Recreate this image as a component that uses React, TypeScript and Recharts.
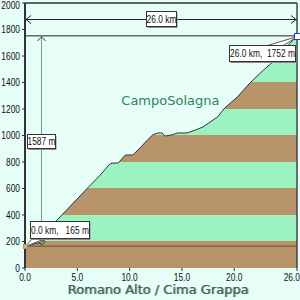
import {
  ComposedChart,
  Area,
  XAxis,
  YAxis,
  ReferenceLine,
  ReferenceDot,
} from 'recharts';

// profile: distance (km) / elevation (m)
const km = [
  0, 1.4, 2.2, 2.8, 6.0, 7.2, 8.1, 8.4, 8.9, 9.6, 10.3, 11.0, 11.7, 12.2, 12.7,
  13.1, 13.4, 14.0, 14.6, 15.5, 16.3, 17.0, 18.4, 19.1, 20.3, 21.5, 22.8, 23.9,
  25.0, 26.0,
];
const elev = [
  165, 192, 226, 340, 605, 702, 785, 792, 792, 853, 853, 906, 966, 1004, 1019,
  1019, 996, 1004, 1019, 1019, 1042, 1064, 1140, 1208, 1291, 1396, 1494, 1570,
  1668, 1752,
];

const xTicks = [0, 5, 10, 15, 20, 26];
const yTicks = [0, 200, 400, 600, 800, 1000, 1200, 1400, 1600, 1800, 2000];

// horizontal stripes under the profile (bottom to top)
const bandTops = [200, 400, 600, 800, 1000, 1200, 1400, 2000];
const bandColors = [
  '#b8946a', '#9cf2c0', '#b8946a', '#9cf2c0',
  '#b8946a', '#9cf2c0', '#b8946a', '#9cf2c0',
];

const climbName = 'CampoSolagna';
const title = 'Romano Alto / Cima Grappa';
const nameAt = { km: 13.9, elev: 1265 };
const distLineElev = 1880;
const gainLineKm = 1.5;

const BG = '#e6fdf8';
const FONT = '"Liberation Sans", Arial, sans-serif';
const SQUEEZE = 0.84;

const profile = km.map((k, i) => ({ km: k, elev: elev[i] }));
const startKm = km[0];
const startElev = elev[0];
const endKm = km[km.length - 1];
const endElev = elev[elev.length - 1];
const gain = endElev - startElev;
const maxElev = Math.max(...elev);

const px = (v: number) => Math.round(v) + 0.5;

// condensed text, like the narrow face of the original
function Narrow({ x, y, anchor = 'middle', children }: any) {
  return (
    <text
      transform={`translate(${x} ${y}) scale(${SQUEEZE} 1)`}
      textAnchor={anchor}
      fontSize={10}
      fontFamily={FONT}
      fill="#111"
      style={{ whiteSpace: 'pre' }}
    >
      {children}
    </text>
  );
}

function LabelBox({ x, y, w, h, text }: { x: number; y: number; w: number; h: number; text: string }) {
  return (
    <g>
      <rect x={x + 1} y={y + 1.5} width={w} height={h} fill="#8a8a8a" />
      <rect x={x} y={y} width={w} height={h} fill="#ffffff" stroke="#333" strokeWidth={1} />
      <Narrow x={x + w / 2} y={y + h / 2 + 3.5}>{text}</Narrow>
    </g>
  );
}

const StartMark = (props: any) => {
  const cx = px(props.cx);
  const cy = px(props.cy);
  return (
    <g>
      <polygon points={`${cx},${cy} ${cx + 7},${cy - 8} ${cx + 20},${cy - 8}`} fill="#fff" stroke="#555" />
      <LabelBox x={cx + 5} y={cy - 25} w={59} h={17} text={`${startKm.toFixed(1)} km,   ${startElev} m`} />
      <rect x={cx - 2} y={cy - 2} width={4} height={4} fill="#7ed8a0" stroke="#c8884a" />
    </g>
  );
};

const EndMark = (props: any) => {
  const cx = px(props.cx);
  const cy = px(props.cy);
  return (
    <g>
      <polygon points={`${cx},${cy} ${cx - 30},${cy + 9} ${cx - 14},${cy + 9}`} fill="#fff" stroke="#555" />
      <LabelBox x={cx - 68} y={cy + 9} w={66} h={16} text={`${endKm.toFixed(1)} km,  ${endElev} m`} />
      <rect x={cx - 3} y={cy - 3} width={6} height={6} fill="#fff" stroke="#2a3ad8" />
    </g>
  );
};

const DistLine = (props: any) => {
  const { x1, x2 } = props;
  const y = px(props.y1);
  return (
    <g stroke="#222" strokeWidth={1} fill="none">
      <line x1={x1} y1={y} x2={x2} y2={y} />
      <polyline points={`${x1 + 6},${y - 4} ${x1 + 1},${y} ${x1 + 6},${y + 4}`} />
      <polyline points={`${x2 - 6},${y - 4} ${x2 - 1},${y} ${x2 - 6},${y + 4}`} />
    </g>
  );
};

const GainLine = (props: any) => {
  const x = px(props.x1);
  const top = Math.min(props.y1, props.y2);
  const bot = Math.max(props.y1, props.y2);
  return (
    <g fill="none" strokeWidth={1}>
      <line x1={x} y1={top} x2={x} y2={bot} stroke="#66a88a" />
      <polyline points={`${x - 4},${top + 5} ${x},${top + 1} ${x + 4},${top + 5}`} stroke="#333" />
      <polyline points={`${x - 4},${bot - 5} ${x},${bot - 1} ${x + 4},${bot - 5}`} stroke="#333" />
    </g>
  );
};

const MidBox = (text: string, w: number, h: number) => (props: any) => (
  <LabelBox x={px(props.cx - w / 2)} y={px(props.cy - h / 2)} w={w} h={h} text={text} />
);

const NameText = (props: any) => (
  <text x={props.cx} y={props.cy + 5} textAnchor="middle" fontSize={13} fontFamily="DejaVu Sans" fill="#2f8656">
    {climbName}
  </text>
);

const XTick = (props: any) => {
  const { x, y, payload, index } = props;
  const last = index === xTicks.length - 1;
  return (
    <Narrow x={last ? x + 3 : x} y={y + 8} anchor={last ? 'end' : 'middle'}>
      {Number(payload.value).toFixed(1)}
    </Narrow>
  );
};

const YTick = (props: any) => {
  const { x, y, payload } = props;
  // keep the top label inside the picture
  return (
    <Narrow x={x} y={Math.max(y + 3.5, 8.5)} anchor="end">
      {payload.value}
    </Narrow>
  );
};

export default function App() {
  // hard-edged stops, top of the filled shape (max elevation) = offset 0
  const stops: { offset: number; color: string }[] = [];
  for (let i = bandTops.length - 1; i >= 0; i--) {
    const top = Math.min(bandTops[i], maxElev);
    const bottom = i === 0 ? 0 : bandTops[i - 1];
    if (bottom >= maxElev) continue;
    stops.push({ offset: (maxElev - top) / maxElev, color: bandColors[i] });
    stops.push({ offset: (maxElev - bottom) / maxElev, color: bandColors[i] });
  }

  return (
    <div style={{ position: 'absolute', left: 0, top: 0, width: 300, height: 300, background: BG }}>
      <ComposedChart
        width={300}
        height={300}
        data={profile}
        margin={{ top: 3, right: 3, bottom: 0, left: 0 }}
      >
        <defs>
          <linearGradient id="bands" x1="0" y1="0" x2="0" y2="1">
            {stops.map((s, i) => (
              <stop key={i} offset={s.offset} stopColor={s.color} />
            ))}
          </linearGradient>
        </defs>
        <XAxis
          dataKey="km"
          type="number"
          domain={[0, 26]}
          ticks={xTicks}
          interval={0}
          height={32}
          axisLine={false}
          tickSize={3}
          tickLine={{ stroke: '#333' }}
          tick={<XTick />}
        />
        <YAxis
          type="number"
          domain={[0, 2000]}
          ticks={yTicks}
          interval={0}
          width={25}
          tickSize={3}
          tickMargin={2}
          axisLine={{ stroke: '#333', strokeWidth: 2 }}
          tickLine={{ stroke: '#333' }}
          tick={<YTick />}
        />
        <Area
          type="linear"
          dataKey="elev"
          stroke="#333"
          strokeWidth={1}
          fill="url(#bands)"
          fillOpacity={1}
          isAnimationActive={false}
          dot={false}
          activeDot={false}
        />
        <ReferenceLine y={startElev} stroke="#8c6444" strokeWidth={1.5} />
        <ReferenceLine y={endElev} stroke="#222" strokeWidth={1} />
        <ReferenceLine y={2000} stroke="#333" strokeWidth={1.5} />
        <ReferenceLine x={26} stroke="#444" strokeWidth={1.5} />
        <ReferenceLine
          segment={[{ x: startKm, y: distLineElev }, { x: endKm, y: distLineElev }]}
          shape={<DistLine />}
        />
        <ReferenceLine
          segment={[{ x: gainLineKm, y: startElev }, { x: gainLineKm, y: endElev }]}
          shape={<GainLine />}
        />
        <ReferenceDot x={nameAt.km} y={nameAt.elev} r={0} shape={<NameText />} />
        <ReferenceDot
          x={(startKm + endKm) / 2}
          y={distLineElev}
          shape={MidBox(`${(endKm - startKm).toFixed(1)} km`, 30, 15)}
        />
        <ReferenceDot
          x={gainLineKm}
          y={(startElev + endElev) / 2}
          shape={MidBox(`${gain} m`, 28, 14)}
        />
        <ReferenceDot x={startKm} y={startElev} shape={<StartMark />} />
        <ReferenceDot x={endKm} y={endElev} shape={<EndMark />} />
      </ComposedChart>
      <div
        style={{
          position: 'absolute',
          left: 0,
          top: 282,
          width: 316,
          textAlign: 'center',
          fontFamily: 'DejaVu Sans',
          fontSize: 13,
          lineHeight: '15px',
          color: '#3f5f50',
          textShadow: '1px 0 0 #8aa898',
        }}
      >
        {title}
      </div>
    </div>
  );
}
